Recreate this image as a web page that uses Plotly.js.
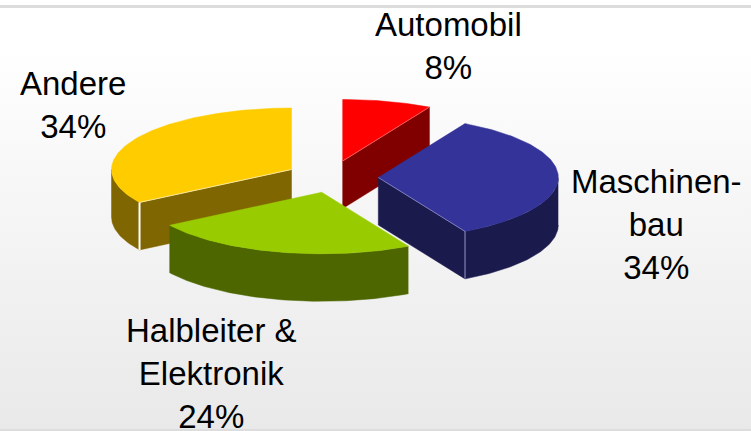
<!DOCTYPE html>
<html>
<head>
<meta charset="utf-8">
<script src="https://cdn.plot.ly/plotly-3.0.1.min.js"></script>
<style>
html,body{margin:0;padding:0;width:751px;height:431px;overflow:hidden;
background:linear-gradient(to bottom,#ffffff 0px,#ffffff 40px,#e9e9e9 429px);}
#chart{width:751px;height:431px;}
</style>
</head>
<body>
<div id="chart"></div>
<script>
// Data
const categories = ["Automobil", "Maschinen-<br>bau", "Halbleiter &<br>Elektronik", "Andere"];
const shares = [8, 34, 24, 34];

// Styles
const topColors  = ["#FF0000", "#333399", "#99CC00", "#FFCC00"];
const wallColors = ["#800000", "#1A1A4D", "#4D6600", "#806600"];
const seamColors = ["#ff8080", "#9999cc", "#c0dd60", "#ffffff"];
const seamWidths = [1, 1, 0.5, 2];

// Projection settings of the exploded 3D pie
const radiusX = 180, radiusY = 61.5, depth = 47.5;
const apexX = [342.7, 378.3, 321.7, 291.5];
const apexY = [161, 177.5, 192.3, 169.5];
const labelX = [448, 656, 211, 73];
const labelY = [46, 224, 373.5, 105];
const drawOrder = [3, 0, 1, 2];

const RAD = Math.PI / 180;
const total = shares.reduce((a, b) => a + b, 0);
const starts = [];
shares.reduce((acc, v, i) => { starts[i] = acc; return acc + v / total * 360; }, 0);

function pt(i, deg, drop) {
  return [apexX[i] + radiusX * Math.sin(deg * RAD),
          apexY[i] - radiusY * Math.cos(deg * RAD) + (drop || 0)];
}
function arc(i, a, b, drop) {
  const pts = [], n = Math.max(2, Math.ceil(Math.abs(b - a)));
  for (let k = 0; k <= n; k++) pts.push(pt(i, a + (b - a) * k / n, drop));
  return pts;
}
function poly(pts, color) {
  return {type: "scatter", mode: "lines", x: pts.map(p => p[0]), y: pts.map(p => p[1]),
    fill: "toself", fillcolor: color, line: {color: color, width: 0.5},
    hoverinfo: "skip", showlegend: false};
}
function seam(pts, color, width) {
  return {type: "scatter", mode: "lines", x: pts.map(p => p[0]), y: pts.map(p => p[1]),
    line: {color: color, width: width}, hoverinfo: "skip", showlegend: false};
}

const traces = [];
drawOrder.forEach(i => {
  const a = starts[i], b = a + shares[i] / total * 360;
  const apex = [apexX[i], apexY[i]], apexLow = [apexX[i], apexY[i] + depth];
  const walls = [], seams = [];
  // cut faces turned towards the viewer
  [[a, Math.sin(a * RAD) < -1e-6], [b, Math.sin(b * RAD) > 1e-6]].forEach(([ang, vis]) => {
    if (vis) {
      const c = pt(i, ang), d = pt(i, ang, depth);
      walls.push(poly([apex, c, d, apexLow, apex], wallColors[i]));
      seams.push(seam([apex, c], seamColors[i], i === 3 ? 0.6 : 0.7));
      if (ang > 90 && ang < 270) seams.push(seam([c, d], seamColors[i], seamWidths[i]));
    }
  });
  // outer rim on the front half
  const r0 = Math.max(a, 90), r1 = Math.min(b, 270);
  if (r1 > r0) {
    const top = arc(i, r0, r1, 0), low = arc(i, r1, r0, depth);
    walls.push(poly(top.concat(low), wallColors[i]));
  }
  walls.forEach(w => traces.push(w));
  const face = [apex].concat(arc(i, a, b, 0)).concat([apex]);
  traces.push(poly(face, topColors[i]));
  seams.forEach(s => traces.push(s));
});

const annotations = categories.map((c, i) => ({
  x: labelX[i], y: labelY[i], xref: "x", yref: "y", xanchor: "center", yanchor: "middle",
  text: c + "<br>" + shares[i] + "%", showarrow: false, align: "center",
  font: {family: "Liberation Sans, Arial, sans-serif", size: 33, color: "#000000"}
}));

const shapes = [
  {type: "line", xref: "paper", yref: "y", x0: 0, x1: 1, y0: 6.5, y1: 6.5, line: {color: "#dcdcdc", width: 3}},
  {type: "line", xref: "paper", yref: "y", x0: 0, x1: 1, y0: 430, y1: 430, line: {color: "#dddddd", width: 2}}
];

Plotly.newPlot("chart", traces, {
  width: 751, height: 431, autosize: false,
  margin: {l: 0, r: 0, t: 0, b: 0, pad: 0},
  paper_bgcolor: "rgba(0,0,0,0)", plot_bgcolor: "rgba(0,0,0,0)",
  xaxis: {visible: false, range: [0, 751], fixedrange: true},
  yaxis: {visible: false, range: [431, 0], fixedrange: true},
  annotations: annotations, shapes: shapes, showlegend: false
}, {displayModeBar: false, staticPlot: true});
</script>
</body>
</html>
